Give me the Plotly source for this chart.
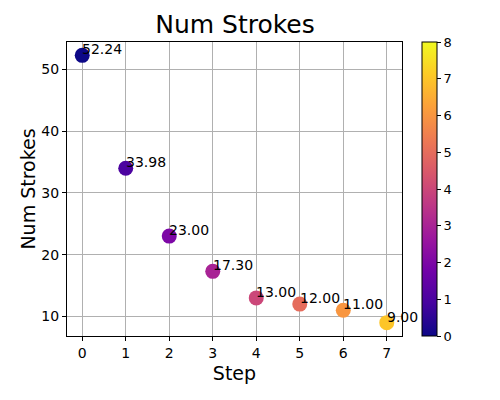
import plotly.graph_objects as go

steps = [0, 1, 2, 3, 4, 5, 6, 7]
num_strokes = [52.24, 33.98, 23.00, 17.30, 13.00, 12.00, 11.00, 9.00]
labels = [f"{v:.2f}" for v in num_strokes]

font_family = "DejaVu Sans, sans-serif"

fig = go.Figure()
fig.add_trace(go.Scatter(
    x=steps,
    y=num_strokes,
    mode="markers",
    marker=dict(
        size=15,
        color=steps,
        colorscale="Plasma",
        cmin=0,
        cmax=8,
        line=dict(width=0),
        colorbar=dict(
            x=1.06,
            xanchor="left",
            xpad=0,
            y=0.5,
            yanchor="middle",
            ypad=0,
            len=1,
            lenmode="fraction",
            thickness=15,
            outlinewidth=1,
            outlinecolor="black",
            ticks="outside",
            ticklen=4,
            tickcolor="black",
            tickvals=list(range(9)),
            tickfont=dict(size=13, color="black"),
        ),
    ),
    showlegend=False,
    hoverinfo="x+y",
))

for x, y, t in zip(steps, num_strokes, labels):
    fig.add_annotation(
        x=x, y=y, text=t, showarrow=False,
        xanchor="left", yanchor="bottom", yshift=-4, xshift=-2,
        font=dict(size=14, color="black", family=font_family),
    )

axis_common = dict(
    showgrid=True,
    gridcolor="#b0b0b0",
    gridwidth=1,
    zeroline=False,
    showline=True,
    linecolor="black",
    linewidth=1,
    mirror=True,
    ticks="outside",
    ticklen=4,
    tickcolor="black",
    tickfont=dict(size=14, color="black"),
    automargin=False,
)

fig.update_layout(
    width=500,
    height=400,
    paper_bgcolor="white",
    plot_bgcolor="white",
    font=dict(family=font_family, color="black"),
    margin=dict(l=67, r=98, t=42, b=64, autoexpand=False),
    title=dict(text="Num Strokes", x=0.47, xanchor="center", y=0.94, yanchor="middle",
               font=dict(size=25, color="black")),
    xaxis=dict(axis_common, range=[-0.35, 7.35], tickvals=steps,
               title=dict(text="Step", font=dict(size=19), standoff=6)),
    yaxis=dict(axis_common, range=[6.84, 54.4], tickvals=[10, 20, 30, 40, 50],
               title=dict(text="Num Strokes", font=dict(size=19), standoff=0)),
)

# drop the browser's default page margin so the figure sits at (0, 0)
fig.write_html(
    "out.html",
    config={"displayModeBar": False},
    post_script="document.body.style.margin='0';",
)
